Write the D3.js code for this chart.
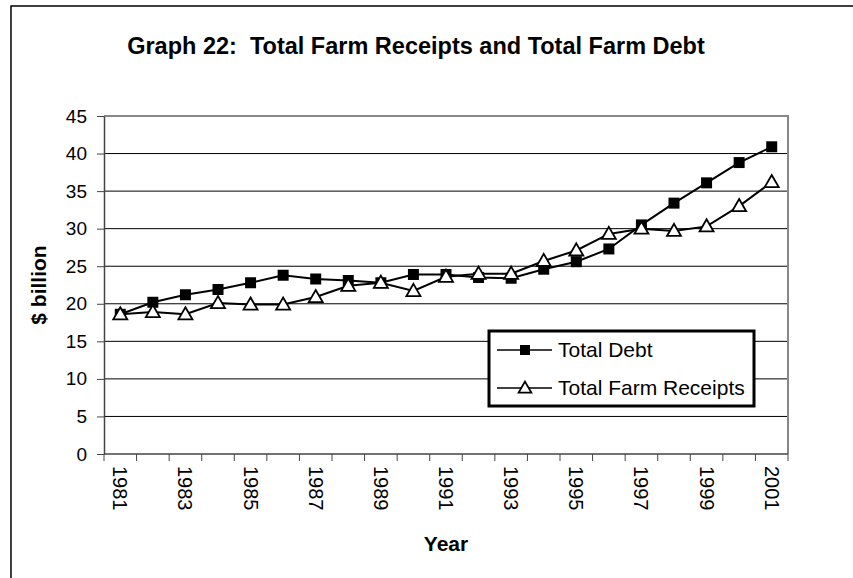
<!DOCTYPE html>
<html><head><meta charset="utf-8">
<script src="https://cdn.jsdelivr.net/npm/d3@7"></script>
<style>body{margin:0;background:#fff;}svg{display:block;font-family:"Liberation Sans",Arial,sans-serif;}</style>
</head><body>
<svg id="chart" width="853" height="578"></svg>
<script>
const years = [1981,1982,1983,1984,1985,1986,1987,1988,1989,1990,1991,1992,1993,1994,1995,1996,1997,1998,1999,2000,2001];
const totalDebt = [18.6,20.2,21.2,21.9,22.8,23.8,23.3,23.1,22.8,23.9,23.9,23.5,23.4,24.6,25.6,27.3,30.5,33.4,36.1,38.8,40.9];
const farmReceipts = [18.6,18.9,18.6,20.1,19.9,19.9,20.9,22.4,22.8,21.7,23.6,24.0,24.0,25.7,27.1,29.3,30.0,29.7,30.3,33.0,36.2];
const yTicks = [0,5,10,15,20,25,30,35,40,45];
const xTickLabels = [1981,1983,1985,1987,1989,1991,1993,1995,1997,1999,2001];
const seriesNames = ["Total Debt","Total Farm Receipts"];

const svg = d3.select("#chart");
const L = 104, R = 788, T = 116, B = 454;

// outer frame
svg.append("rect").attr("x",11).attr("y",6).attr("width",900).attr("height",600)
  .attr("fill","none").attr("stroke","#000").attr("stroke-width",1.5);

svg.append("text").attr("x",416).attr("y",54).attr("text-anchor","middle")
  .attr("font-size",23.5).attr("font-weight","bold")
  .text("Graph 22:\u00a0\u00a0Total Farm Receipts and Total Farm Debt");

const x = d3.scaleBand().domain(years).range([L,R]).padding(0);
const y = d3.scaleLinear().domain([0,45]).range([B,T]);

// gridlines
svg.append("g").selectAll("line").data(yTicks.slice(1,-1)).join("line")
  .attr("x1",L).attr("x2",R).attr("y1",d=>y(d)).attr("y2",d=>y(d))
  .attr("stroke","#000").attr("stroke-width",1);

// plot border top/right
svg.append("path").attr("d",`M${L},${T}H${R}V${B}`).attr("fill","none").attr("stroke","#888").attr("stroke-width",2);

// y axis
const yAxis = d3.axisLeft(y).tickValues(yTicks).tickSize(7).tickPadding(10).tickSizeOuter(0);
const gy = svg.append("g").attr("transform",`translate(${L},0)`).call(yAxis);
gy.select(".domain").attr("stroke","#444").attr("stroke-width",1.5);
gy.selectAll(".tick line").attr("stroke","#444");
gy.selectAll("text").attr("font-size",19).attr("fill","#000").attr("font-family","Liberation Sans, Arial, sans-serif");

// x axis with ticks at category boundaries
const gx = svg.append("g").attr("transform",`translate(0,${B})`);
gx.append("line").attr("x1",L).attr("x2",R).attr("stroke","#444").attr("stroke-width",1.5);
const bounds = years.map(d=>x(d)).concat([x(years[years.length-1])+x.bandwidth()]);
gx.selectAll(".tk").data(bounds).join("line").attr("class","tk")
  .attr("x1",d=>d).attr("x2",d=>d).attr("y1",0).attr("y2",7).attr("stroke","#444");
gx.selectAll(".lbl").data(xTickLabels).join("text").attr("class","lbl")
  .attr("transform",d=>`translate(${x(d)+x.bandwidth()/2},12) rotate(90)`)
  .attr("dy","0.35em").attr("font-size",20).text(d=>d);

// axis titles
svg.append("text").attr("transform","translate(46,285) rotate(-90)").attr("text-anchor","middle")
  .attr("font-size",21).attr("font-weight","bold").text("$ billion");
svg.append("text").attr("x",446).attr("y",551).attr("text-anchor","middle")
  .attr("font-size",21).attr("font-weight","bold").text("Year");

const cx = d => x(d)+x.bandwidth()/2;
const line = d3.line().x((d,i)=>cx(years[i])).y(d=>y(d));
const tri = d3.symbol().type(d3.symbolTriangle).size(85);

function drawSeries(vals, kind){
  svg.append("path").datum(vals).attr("d",line).attr("fill","none").attr("stroke","#000").attr("stroke-width",2);
  const g = svg.append("g");
  if(kind==="sq"){
    g.selectAll("rect").data(vals).join("rect")
      .attr("x",(d,i)=>cx(years[i])-5.5).attr("y",d=>y(d)-5.5).attr("width",11).attr("height",11).attr("fill","#000");
  } else {
    g.selectAll("path").data(vals).join("path")
      .attr("d",tri).attr("transform",(d,i)=>`translate(${cx(years[i])},${y(d)+1})`)
      .attr("fill","#fff").attr("stroke","#000").attr("stroke-width",1.8);
  }
}
drawSeries(totalDebt,"sq");
drawSeries(farmReceipts,"tri");

// legend
const lg = svg.append("g");
lg.append("rect").attr("x",489).attr("y",331).attr("width",265).attr("height",75)
  .attr("fill","#fff").attr("stroke","#000").attr("stroke-width",3);
const rows = [350,388];
seriesNames.forEach((n,i)=>{
  lg.append("line").attr("x1",497).attr("x2",552).attr("y1",rows[i]).attr("y2",rows[i]).attr("stroke","#000").attr("stroke-width",1.5);
  if(i===0) lg.append("rect").attr("x",520).attr("y",rows[i]-5).attr("width",10).attr("height",10).attr("fill","#000");
  else lg.append("path").attr("d",d3.symbol().type(d3.symbolTriangle).size(70)).attr("transform",`translate(525,${rows[i]+1})`).attr("fill","#fff").attr("stroke","#000").attr("stroke-width",1.8);
  lg.append("text").attr("x",558).attr("y",rows[i]).attr("dy","0.35em").attr("font-size",21).text(n);
});
</script>
</body></html>
